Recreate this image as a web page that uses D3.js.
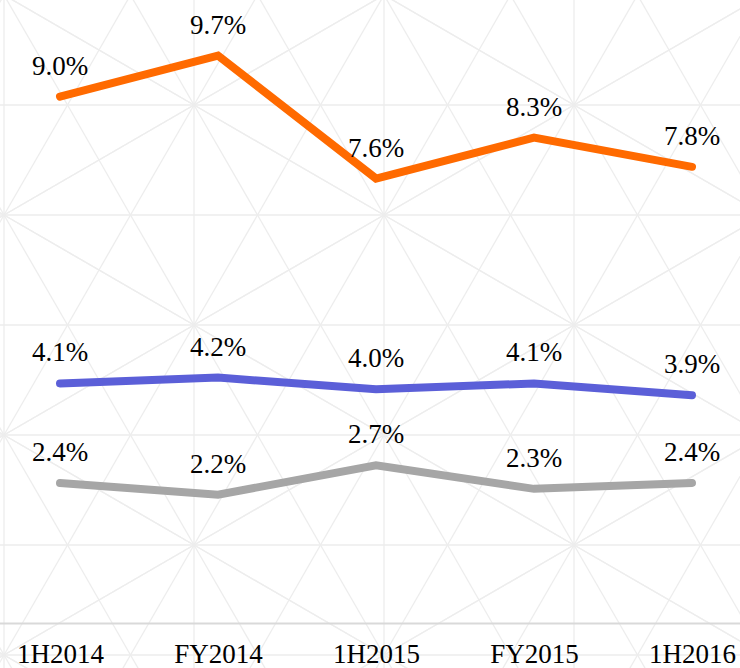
<!DOCTYPE html>
<html>
<head>
<meta charset="utf-8">
<script src="https://d3js.org/d3.v7.min.js"></script>
<style>
  html, body { margin: 0; padding: 0; background: #fff; }
  svg { display: block; }
</style>
</head>
<body>
<div id="chart"></div>
<script>
// data
var periods = ["1H2014", "FY2014", "1H2015", "FY2015", "1H2016"];
var seriesA = [9.0, 9.7, 7.6, 8.3, 7.8];   // orange
var seriesB = [4.1, 4.2, 4.0, 4.1, 3.9];   // blue
var seriesC = [2.4, 2.2, 2.7, 2.3, 2.4];   // grey
var colors = ["#ff6a00", "#5b5fd8", "#a6a6a6"];

var width = 740, height = 668;

var svg = d3.select("#chart").append("svg")
    .attr("width", width)
    .attr("height", height);

// background star pattern (decoration only)
var bg = svg.append("g")
    .attr("stroke", "#ededed")
    .attr("stroke-width", 1.3)
    .attr("fill", "none");
var x0 = 4, y0 = 105, dx = 190, dy = 110, h = dy / Math.sqrt(3);
var segs = [];
for (var i = -1; i <= 5; i++) {
  segs.push([x0 + i * dx, 0, x0 + i * dx, height]);
}
for (var j = -1; j <= 6; j++) {
  segs.push([0, y0 + j * dy, width, y0 + j * dy]);
}
for (var i = -1; i <= 5; i++) {
  for (var j = -2; j <= 7; j++) {
    if (Math.abs(i + j) % 2 !== 1) continue;
    var cx = x0 + i * dx, cy = y0 + j * dy;
    [[1, 1], [1, -1], [-1, 1], [-1, -1]].forEach(function(s) {
      // lattice edge
      segs.push([cx, cy, cx + s[0] * dx, cy + s[1] * dy]);
      // 60 degree ray
      var ex = cx + s[0] * h, ey = cy + s[1] * dy;
      segs.push([cx, cy, ex, ey]);
      // kite side to edge midpoint
      segs.push([ex, ey, cx + s[0] * dx / 2, cy + s[1] * dy / 2]);
    });
  }
}
bg.selectAll("line").data(segs).enter().append("line")
    .attr("x1", function(d) { return d[0]; })
    .attr("y1", function(d) { return d[1]; })
    .attr("x2", function(d) { return d[2]; })
    .attr("y2", function(d) { return d[3]; });

// scales
var x = d3.scalePoint()
    .domain(periods)
    .range([60, 692]);
var y = d3.scaleLinear()
    .domain([0, 10])
    .range([623.5, 38]);

// x axis
var xAxis = svg.append("g")
    .attr("transform", "translate(0," + y(0) + ")")
    .call(d3.axisBottom(x).tickSize(0).tickPadding(0));
xAxis.select(".domain").remove();
xAxis.append("line")
    .attr("x1", 0).attr("x2", width)
    .attr("stroke", "#d9d9d9").attr("stroke-width", 2);
xAxis.selectAll(".tick text")
    .attr("y", 39.5)
    .attr("dy", null)
    .attr("fill", "#000")
    .style("font-family", "'Liberation Serif', serif")
    .style("font-size", "27px");

// lines + labels
var allSeries = [seriesA, seriesB, seriesC];
var line = d3.line()
    .x(function(d, i) { return x(periods[i]); })
    .y(function(d) { return y(d); });

allSeries.forEach(function(vals, k) {
  svg.append("path")
      .datum(vals)
      .attr("fill", "none")
      .attr("stroke", colors[k])
      .attr("stroke-width", 8)
      .attr("stroke-linecap", "round")
      .attr("stroke-linejoin", "miter")
      .attr("d", line);

  svg.append("g").selectAll("text")
      .data(vals)
      .enter().append("text")
      .attr("x", function(d, i) { return x(periods[i]); })
      .attr("y", function(d) { return y(d) - 22; })
      .attr("text-anchor", "middle")
      .style("font-family", "'Liberation Serif', serif")
      .style("font-size", "27px")
      .text(function(d) { return d.toFixed(1) + "%"; });
});
</script>
</body>
</html>
